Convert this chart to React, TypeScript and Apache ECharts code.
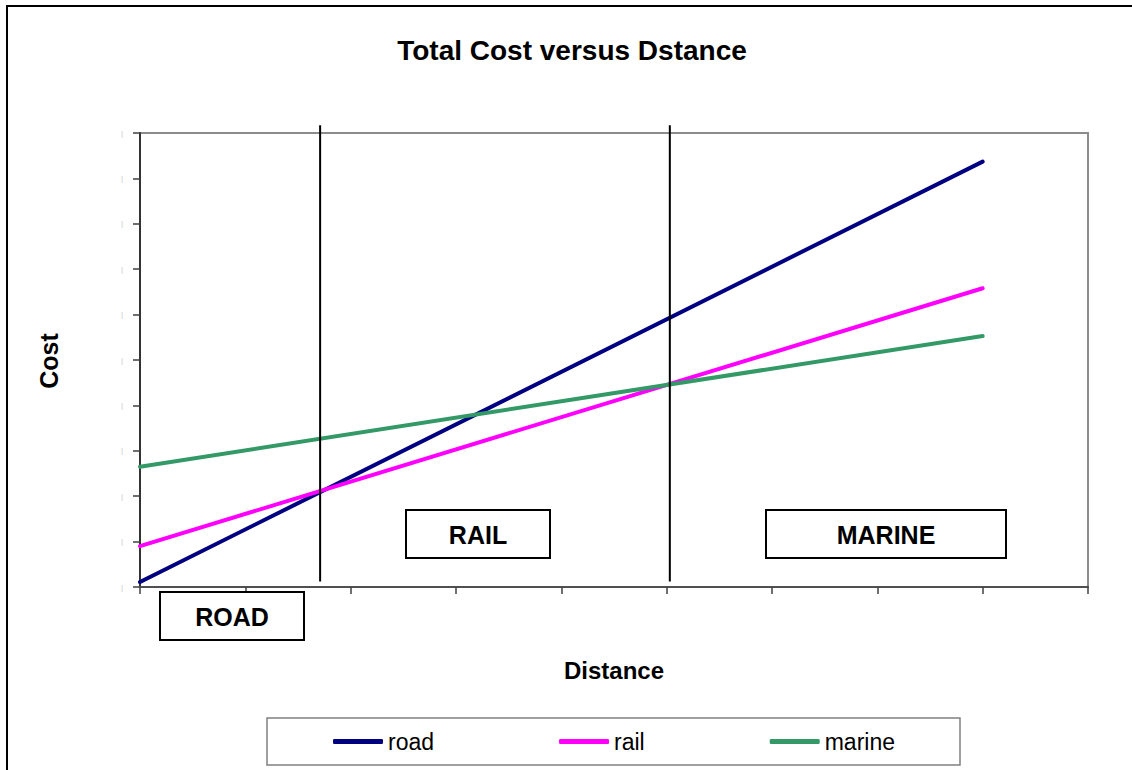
import React, { useEffect, useRef } from "react";
import * as echarts from "echarts";

const seriesNames = ["road", "rail", "marine"];
const seriesColors = ["#000080", "#FF00FF", "#339966"];
const distance = [0, 8];
const roadCost = [0.11, 9.37];
const railCost = [0.9, 6.58];
const marineCost = [2.65, 5.53];
const dividerDistances = [1.71, 5.03];
const dividerCostRange = [0.12, 10.17];
const regionLabels = ["ROAD", "RAIL", "MARINE"];
const xMax = 9;
const yMax = 10;

const FONT = "'Liberation Sans', Arial, sans-serif";

export default function App() {
  const ref = useRef<HTMLDivElement>(null);
  useEffect(() => {
    if (!ref.current) return;
    const chart = echarts.init(ref.current, undefined, { renderer: "svg" });
    const costs = [roadCost, railCost, marineCost];
    const option: any = {
      animation: false,
      backgroundColor: "#ffffff",
      textStyle: { fontFamily: FONT },
      title: {
        text: "Total Cost versus Dstance",
        left: 572,
        textAlign: "center",
        top: 36,
        padding: 0,
        textStyle: { fontFamily: FONT, fontSize: 28, fontWeight: "bold", color: "#000" },
      },
      legend: {
        left: 333,
        top: 730,
        padding: 0,
        itemGap: 125,
        itemWidth: 50,
        itemHeight: 5,
        icon: "roundRect",
        data: seriesNames,
        textStyle: { fontFamily: FONT, fontSize: 23, color: "#000" },
      },
      grid: {
        left: 140,
        top: 133,
        width: 948,
        height: 454,
        show: true,
        borderColor: "#8c8c8c",
        borderWidth: 2,
        backgroundColor: "#ffffff",
      },
      xAxis: {
        type: "value",
        min: 0,
        max: xMax,
        interval: 1,
        name: "Distance",
        nameLocation: "middle",
        nameGap: 71,
        nameTextStyle: { fontFamily: FONT, fontSize: 24, fontWeight: "bold", color: "#000" },
        axisLine: { show: true, lineStyle: { color: "#505050", width: 2 } },
        axisTick: { show: true, inside: false, length: 7, lineStyle: { color: "#404040", width: 1.5 } },
        axisLabel: { show: false },
        splitLine: { show: false },
      },
      yAxis: {
        type: "value",
        min: 0,
        max: yMax,
        interval: 1,
        axisLine: { show: true, lineStyle: { color: "#333", width: 2 } },
        axisTick: { show: true, inside: false, length: 7, lineStyle: { color: "#404040", width: 1.5 } },
        axisLabel: { show: true, formatter: () => "|", fontSize: 8, color: "#c8c8c8", margin: 17 },
        splitLine: { show: false },
      },
      series: seriesNames.map((name, i) => ({
        name,
        type: "line",
        symbol: "none",
        data: distance.map((d, k) => [d, costs[i][k]]),
        itemStyle: { color: seriesColors[i] },
        lineStyle: { color: seriesColors[i], width: 4, cap: "round" },
      })),
    };
    chart.setOption(option);

    const graphics: any[] = [
      {
        type: "rect",
        z: -10,
        shape: { x: 7, y: 6, width: 1200, height: 900 },
        style: { fill: "none", stroke: "#000", lineWidth: 2 },
        silent: true,
      },
      {
        type: "rect",
        shape: { x: 267, y: 718, width: 693, height: 47 },
        style: { fill: "none", stroke: "#808080", lineWidth: 1.5 },
        silent: true,
      },
      {
        type: "text",
        x: 49,
        y: 361,
        rotation: Math.PI / 2,
        style: {
          text: "Cost",
          fontFamily: FONT,
          fontSize: 25,
          fontWeight: "bold",
          fill: "#000",
          align: "center",
          verticalAlign: "middle",
        },
      },
    ];

    dividerDistances.forEach((d) => {
      const p1 = chart.convertToPixel({ gridIndex: 0 }, [d, dividerCostRange[0]]) as number[];
      const p2 = chart.convertToPixel({ gridIndex: 0 }, [d, dividerCostRange[1]]) as number[];
      graphics.push({
        type: "line",
        z: 20,
        shape: { x1: p1[0], y1: p1[1], x2: p2[0], y2: p2[1] },
        style: { stroke: "#000", lineWidth: 2 },
        silent: true,
      });
    });

    const boxes = [
      { x: 160, y: 592, w: 144, h: 48 },
      { x: 406, y: 510, w: 144, h: 48 },
      { x: 766, y: 510, w: 240, h: 48 },
    ];
    boxes.forEach((b, i) => {
      graphics.push({
        type: "rect",
        z: 25,
        shape: { x: b.x, y: b.y, width: b.w, height: b.h },
        style: { fill: "#fff", stroke: "#000", lineWidth: 2 },
        silent: true,
      });
      graphics.push({
        type: "text",
        z: 26,
        x: b.x + b.w / 2,
        y: b.y + b.h / 2 + 1,
        style: {
          text: regionLabels[i],
          fontFamily: FONT,
          fontSize: 25,
          fontWeight: "bold",
          fill: "#000",
          align: "center",
          verticalAlign: "middle",
        },
        silent: true,
      });
    });

    chart.setOption({ graphic: graphics });
    return () => chart.dispose();
  }, []);
  return (
    <div
      ref={ref}
      style={{ position: "absolute", left: 0, top: 0, width: 1132, height: 770 }}
    />
  );
}
